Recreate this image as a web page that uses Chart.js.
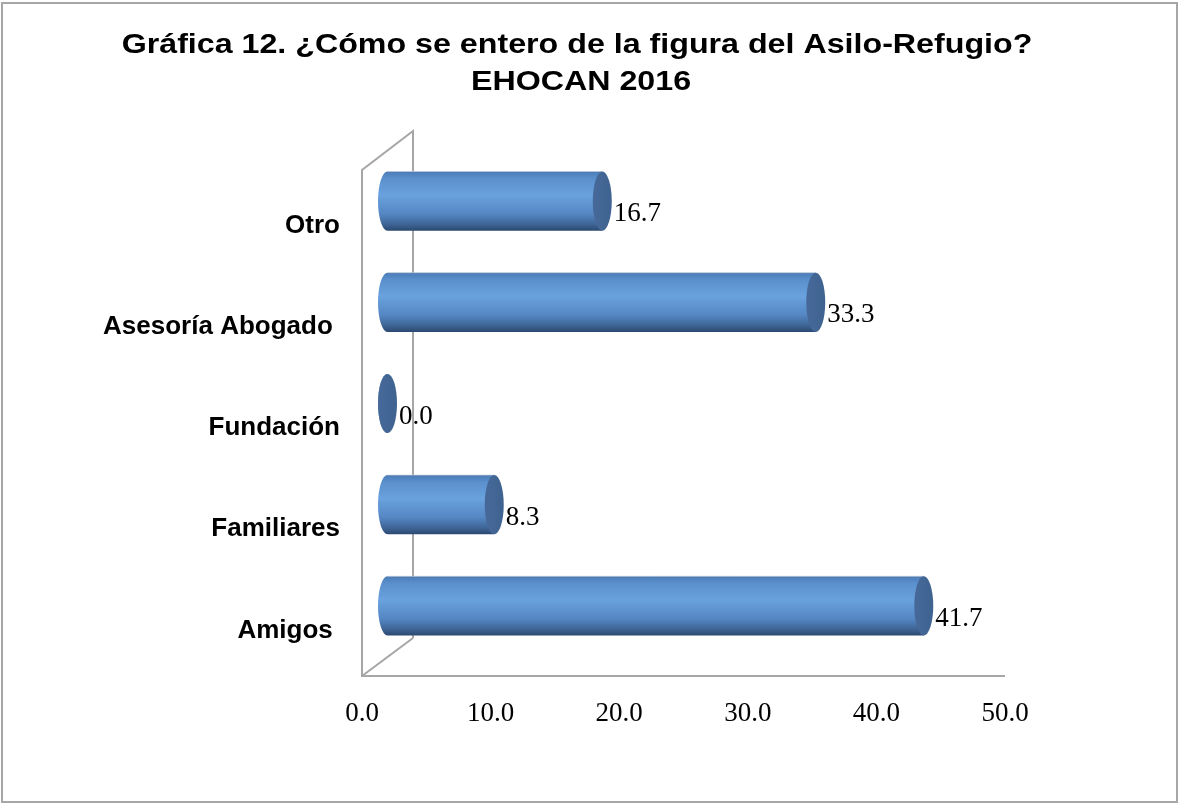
<!DOCTYPE html>
<html>
<head>
<meta charset="utf-8">
<script src="https://cdn.jsdelivr.net/npm/chart.js@4/dist/chart.umd.min.js"></script>
<style>
  html, body { margin: 0; padding: 0; background: #fff; }
  #wrap { width: 1178px; height: 803px; position: relative; }
</style>
</head>
<body>
<div id="wrap"><canvas id="c" width="1178" height="803"></canvas></div>
<script>
const titleLines = ['Gráfica 12. ¿Cómo se entero de la figura del Asilo-Refugio?', 'EHOCAN 2016'];
const categories = ['Otro', 'Asesoría Abogado ', 'Fundación', 'Familiares', 'Amigos '];
const values = [16.7, 33.3, 0.0, 8.3, 41.7];
const xTickValues = [0, 10, 20, 30, 40, 50];
const xMin = 0;
const xMax = 50;

const DEPTH_X = 51, DEPTH_Y = -39;

const backgroundPlugin = {
  id: 'bgframe',
  beforeDraw(chart) {
    const ctx = chart.ctx;
    ctx.save();
    ctx.fillStyle = '#ffffff';
    ctx.fillRect(0, 0, chart.width, chart.height);
    ctx.strokeStyle = '#a6a6a6';
    ctx.lineWidth = 2;
    ctx.strokeRect(2, 3, chart.width - 3, chart.height - 4);
    ctx.restore();
  }
};

const titlePlugin = {
  id: 'stretchedTitle',
  afterDraw(chart) {
    const ctx = chart.ctx;
    ctx.save();
    ctx.fillStyle = '#000';
    ctx.font = 'bold 28px "Liberation Sans", Arial, sans-serif';
    ctx.textAlign = 'center';
    ctx.textBaseline = 'middle';
    const cx = 577;
    const ys = [45, 82];
    titleLines.forEach((t, i) => {
      ctx.save();
      ctx.translate(cx + (i === 1 ? 4 : 0), ys[i]);
      ctx.scale(1.15, 1);
      ctx.fillText(t, 0, 0);
      ctx.restore();
    });
    ctx.restore();
  }
};

const wallPlugin = {
  id: 'wall',
  beforeDatasetsDraw(chart) {
    const { left: L, right: R, top: T, bottom: B } = chart.chartArea;
    const ctx = chart.ctx;
    ctx.save();
    ctx.strokeStyle = '#a6a6a6';
    ctx.lineWidth = 2;
    ctx.beginPath();
    ctx.moveTo(L, B); ctx.lineTo(L, T); ctx.lineTo(L + DEPTH_X, T + DEPTH_Y);
    ctx.lineTo(L + DEPTH_X, B + DEPTH_Y + 1);
    ctx.moveTo(L, B); ctx.lineTo(L + DEPTH_X, B + DEPTH_Y + 1);
    ctx.moveTo(L - 1, B); ctx.lineTo(R, B);
    ctx.stroke();
    ctx.restore();
  }
};

const cylinderPlugin = {
  id: 'cylinders',
  afterDatasetsDraw(chart) {
    const ctx = chart.ctx;
    const xs = chart.scales.x;
    const meta = chart.getDatasetMeta(0);
    const dx = DEPTH_X / 2, dy = DEPTH_Y / 2;
    const x0 = xs.getPixelForValue(0) + dx;
    meta.data.forEach((el, i) => {
      const h = el.height;
      const ry = h / 2;
      const rx = 9.5;
      const yc = el.y + dy;
      const x1 = el.x + dx;
      const top = yc - ry, bot = yc + ry;
      ctx.save();
      const g = ctx.createLinearGradient(0, top, 0, bot);
      g.addColorStop(0, '#4b7bb6');
      g.addColorStop(0.12, '#5a90cd');
      g.addColorStop(0.4, '#69a2de');
      g.addColorStop(0.72, '#5486c2');
      g.addColorStop(0.9, '#3d6393');
      g.addColorStop(1, '#2b4870');
      ctx.beginPath();
      ctx.moveTo(x0, top);
      ctx.lineTo(x1, top);
      ctx.lineTo(x1, bot);
      ctx.lineTo(x0, bot);
      ctx.ellipse(x0, yc, rx, ry, 0, Math.PI / 2, Math.PI * 1.5, false);
      ctx.closePath();
      ctx.fillStyle = g;
      ctx.fill();
      ctx.strokeStyle = 'rgba(190,200,215,0.7)';
      ctx.lineWidth = 1;
      ctx.beginPath();
      ctx.moveTo(x0, top); ctx.lineTo(x1, top);
      ctx.stroke();
      const cg = ctx.createLinearGradient(x1 - rx, 0, x1 + rx, 0);
      cg.addColorStop(0, '#46699a');
      cg.addColorStop(1, '#3f6390');
      ctx.beginPath();
      ctx.ellipse(x1, yc, rx, ry, 0, 0, Math.PI * 2);
      ctx.fillStyle = cg;
      ctx.fill();
      ctx.fillStyle = '#000';
      ctx.font = '27px "Liberation Serif", "Times New Roman", serif';
      ctx.textAlign = 'left';
      ctx.textBaseline = 'middle';
      ctx.fillText(values[i].toFixed(1), x1 + rx + 2, yc + 13);
      ctx.restore();
    });
  }
};

new Chart(document.getElementById('c'), {
  type: 'bar',
  data: {
    labels: categories,
    datasets: [{
      data: values,
      backgroundColor: 'rgba(0,0,0,0)',
      borderWidth: 0,
      categoryPercentage: 1,
      barPercentage: 0.585
    }]
  },
  options: {
    indexAxis: 'y',
    responsive: false,
    animation: false,
    devicePixelRatio: 1,
    layout: { padding: { top: 170, right: 173, bottom: 67, left: 0 } },
    plugins: { legend: { display: false }, tooltip: { enabled: false }, title: { display: false } },
    scales: {
      x: {
        min: xMin, max: xMax,
        afterBuildTicks(scale) { scale.ticks = xTickValues.map(v => ({ value: v })); },
        afterFit(scale) { scale.height = 60; },
        grid: { display: false, drawTicks: false },
        border: { display: false },
        ticks: {
          callback: v => Number(v).toFixed(1),
          color: '#000',
          font: { family: '"Liberation Serif", "Times New Roman", serif', size: 27 },
          padding: 22,
          maxRotation: 0
        }
      },
      y: {
        afterFit(scale) { scale.width = 362; },
        grid: { display: false, drawTicks: false },
        border: { display: false },
        ticks: {
          color: '#000',
          font: { family: '"Liberation Sans", Arial, sans-serif', size: 26, weight: 'bold' },
          padding: 22,
          labelOffset: 5
        }
      }
    }
  },
  plugins: [backgroundPlugin, wallPlugin, cylinderPlugin, titlePlugin]
});
</script>
</body>
</html>
